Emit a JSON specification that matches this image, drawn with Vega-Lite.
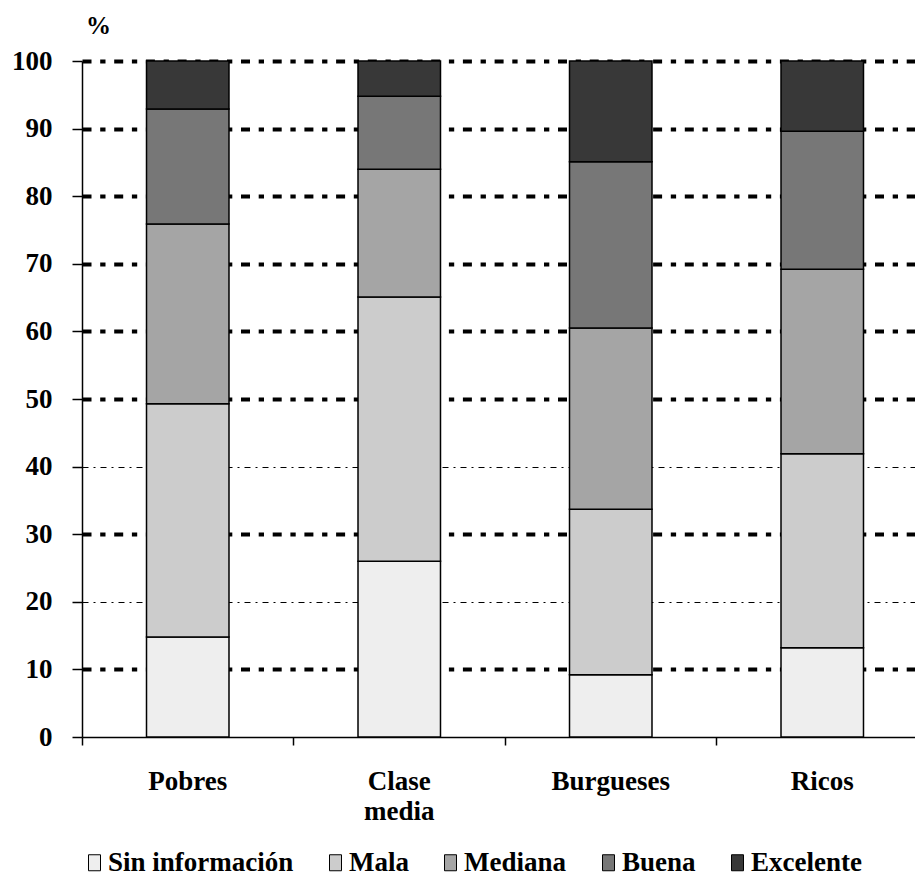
{
  "$schema": "https://vega.github.io/schema/vega-lite/v6.json",
  "width": 833,
  "height": 676,
  "autosize": {"type": "none"},
  "padding": {"left": 82, "top": 61, "right": 0, "bottom": 148},
  "background": "white",
  "config": {"view": {"stroke": null}, "font": "Liberation Serif"},
  "data": {
    "values": [
      {"clase": "Pobres", "calidad": "Sin información", "orden": 1, "porcentaje": 14.8},
      {"clase": "Pobres", "calidad": "Mala", "orden": 2, "porcentaje": 34.5},
      {"clase": "Pobres", "calidad": "Mediana", "orden": 3, "porcentaje": 26.6},
      {"clase": "Pobres", "calidad": "Buena", "orden": 4, "porcentaje": 17.0},
      {"clase": "Pobres", "calidad": "Excelente", "orden": 5, "porcentaje": 7.1},
      {"clase": "Clase media", "calidad": "Sin información", "orden": 1, "porcentaje": 26.0},
      {"clase": "Clase media", "calidad": "Mala", "orden": 2, "porcentaje": 39.1},
      {"clase": "Clase media", "calidad": "Mediana", "orden": 3, "porcentaje": 18.9},
      {"clase": "Clase media", "calidad": "Buena", "orden": 4, "porcentaje": 10.8},
      {"clase": "Clase media", "calidad": "Excelente", "orden": 5, "porcentaje": 5.2},
      {"clase": "Burgueses", "calidad": "Sin información", "orden": 1, "porcentaje": 9.2},
      {"clase": "Burgueses", "calidad": "Mala", "orden": 2, "porcentaje": 24.5},
      {"clase": "Burgueses", "calidad": "Mediana", "orden": 3, "porcentaje": 26.8},
      {"clase": "Burgueses", "calidad": "Buena", "orden": 4, "porcentaje": 24.6},
      {"clase": "Burgueses", "calidad": "Excelente", "orden": 5, "porcentaje": 14.9},
      {"clase": "Ricos", "calidad": "Sin información", "orden": 1, "porcentaje": 13.2},
      {"clase": "Ricos", "calidad": "Mala", "orden": 2, "porcentaje": 28.7},
      {"clase": "Ricos", "calidad": "Mediana", "orden": 3, "porcentaje": 27.3},
      {"clase": "Ricos", "calidad": "Buena", "orden": 4, "porcentaje": 20.4},
      {"clase": "Ricos", "calidad": "Excelente", "orden": 5, "porcentaje": 10.4}
    ]
  },
  "mark": {"type": "bar", "stroke": "#000", "strokeWidth": 1.5, "width": {"band": 0.39}},
  "encoding": {
    "x": {
      "field": "clase",
      "type": "nominal",
      "sort": ["Pobres", "Clase media", "Burgueses", "Ricos"],
      "scale": {"range": [0, 846], "paddingInner": 0, "paddingOuter": 0},
      "axis": {
        "title": null,
        "bandPosition": 0,
        "labelOffset": 0,
        "labelAngle": 0,
        "labelAlign": "center",
        "labelBaseline": "top",
        "labelExpr": "datum.value == 'Clase media' ? ['Clase', 'media'] : datum.value",
        "labelFont": "Liberation Serif",
        "labelFontSize": 27,
        "labelFontWeight": "bold",
        "labelColor": "#000",
        "labelPadding": 23,
        "labelLineHeight": 30,
        "tickSize": 8,
        "tickColor": "#000",
        "tickWidth": 1.5,
        "domainColor": "#000",
        "domainWidth": 1.5,
        "grid": false
      }
    },
    "y": {
      "field": "porcentaje",
      "type": "quantitative",
      "stack": "zero",
      "scale": {"domain": [0, 100], "nice": false},
      "axis": {
        "values": [0, 10, 20, 30, 40, 50, 60, 70, 80, 90, 100],
        "title": "%",
        "titleAngle": 0,
        "titleX": 16,
        "titleY": -36,
        "titleAlign": "center",
        "titleBaseline": "middle",
        "titleFont": "Liberation Serif",
        "titleFontSize": 25,
        "titleFontWeight": "bold",
        "titleColor": "#000",
        "labelFont": "Liberation Serif",
        "labelFontSize": 27,
        "labelFontWeight": "bold",
        "labelColor": "#000",
        "labelPadding": 20,
        "labelBaseline": "middle",
        "tickSize": 10,
        "tickColor": "#000",
        "tickWidth": 1.5,
        "domainColor": "#000",
        "domainWidth": 1.5,
        "grid": true,
        "gridColor": "#000",
        "gridWidth": {"condition": {"test": "datum.value == 20 || datum.value == 40", "value": 1}, "value": 4},
        "gridDash": {"condition": {"test": "datum.value == 20 || datum.value == 40", "value": [6, 5, 2, 5]}, "value": [9, 8.7, 5.3, 8.7]},
        "gridOpacity": {"condition": {"test": "datum.value == 0", "value": 0}, "value": 1}
      }
    },
    "order": {"field": "orden", "type": "quantitative", "sort": "ascending"},
    "color": {
      "field": "calidad",
      "type": "nominal",
      "sort": ["Sin información", "Mala", "Mediana", "Buena", "Excelente"],
      "scale": {
        "domain": ["Sin información", "Mala", "Mediana", "Buena", "Excelente"],
        "range": ["#eeeeee", "#cccccc", "#a5a5a5", "#777777", "#383838"]
      },
      "legend": {
        "orient": "none",
        "legendX": -1,
        "legendY": 788,
        "direction": "horizontal",
        "columns": 5,
        "title": null,
        "padding": 0,
        "symbolType": "M-0.75,-1H0.75V1H-0.75Z",
        "symbolSize": 256,
        "symbolStrokeColor": "#000",
        "symbolStrokeWidth": 1,
        "symbolOpacity": 1,
        "labelFont": "Liberation Serif",
        "labelFontSize": 27,
        "labelFontWeight": "bold",
        "labelColor": "#000",
        "labelLimit": 400,
        "labelOffset": 0,
        "columnPadding": 28
      }
    }
  }
}
